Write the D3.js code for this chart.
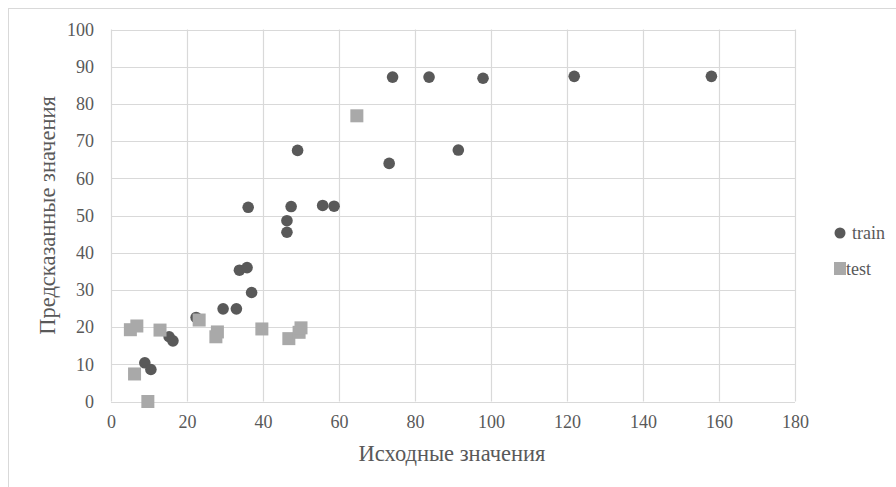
<!DOCTYPE html>
<html>
<head>
<meta charset="utf-8">
<script src="https://cdn.jsdelivr.net/npm/d3@7"></script>
<style>
  html, body { margin: 0; padding: 0; background: #fff; }
  svg { display: block; }
</style>
</head>
<body>
<script>
// ---- data ----
const trainX = [74.1, 83.7, 97.9, 121.9, 158.0, 49.1, 91.4, 73.2, 36.1, 47.4, 55.7, 58.7, 46.3, 46.3, 33.8, 35.8, 37.0, 29.5, 33.0, 22.4, 15.3, 16.3, 8.9, 10.5];
const trainY = [87.2, 87.2, 86.9, 87.4, 87.4, 67.5, 67.6, 64.0, 52.2, 52.4, 52.7, 52.5, 48.6, 45.5, 35.3, 36.0, 29.3, 24.9, 24.9, 22.6, 17.4, 16.3, 10.4, 8.6];
const testX = [64.7, 5.1, 6.8, 12.9, 23.2, 28.0, 27.6, 39.7, 46.8, 49.5, 50.0, 6.2, 9.7];
const testY = [76.8, 19.3, 20.3, 19.2, 21.9, 18.7, 17.4, 19.5, 16.9, 18.6, 19.8, 7.4, 0.0];
const xTicks = [0, 20, 40, 60, 80, 100, 120, 140, 160, 180];
const yTicks = [0, 10, 20, 30, 40, 50, 60, 70, 80, 90, 100];
const seriesNames = ["train", "test"];
const xTitle = "Исходные значения";
const yTitle = "Предсказанные значения";

(function () {
const W = 896, H = 487;
const pL = 111, pR = 795, pT = 29.5, pB = 401.5;
const trainColor = "#595959", testColor = "#a9a9a9", gridColor = "#d9d9d9", textColor = "#595959";
const FONT = "'Liberation Serif', 'Times New Roman', Times, serif";

const svg = d3.select("body").append("svg").attr("width", W).attr("height", H);

// chart border
svg.append("rect").attr("x", 8.5).attr("y", 8.5).attr("width", 900).attr("height", 500)
  .attr("fill", "#fff").attr("stroke", "#d9d9d9").attr("stroke-width", 1);

const x = d3.scaleLinear().domain([0, 180]).range([pL, pR]);
const y = d3.scaleLinear().domain([0, 100]).range([pB, pT]);

// grid
const g = svg.append("g");
g.selectAll("line.v").data(xTicks).enter().append("line")
  .attr("x1", d => Math.round(x(d)) + 0.5).attr("x2", d => Math.round(x(d)) + 0.5)
  .attr("y1", y(100)).attr("y2", y(0))
  .attr("stroke", gridColor).attr("stroke-width", 1.2);
g.selectAll("line.h").data(yTicks).enter().append("line")
  .attr("y1", d => Math.round(y(d)) + 0.5).attr("y2", d => Math.round(y(d)) + 0.5)
  .attr("x1", x(0)).attr("x2", x(180))
  .attr("stroke", gridColor).attr("stroke-width", 1.2);

// axes (labels only)
const xAxis = d3.axisBottom(x).tickValues(xTicks).tickSize(0).tickPadding(0);
const xa = svg.append("g").attr("transform", `translate(0,${pB + 14})`).call(xAxis)
  .attr("font-family", null).attr("font-size", null);
xa.select(".domain").remove();
xa.selectAll("text").style("font-family", FONT).style("font-size", "18px").attr("fill", textColor)
  .attr("dy", "0.71em");

const yAxis = d3.axisLeft(y).tickValues(yTicks).tickSize(0).tickPadding(0);
const ya = svg.append("g").attr("transform", `translate(${pL - 17},0)`).call(yAxis)
  .attr("font-family", null).attr("font-size", null);
ya.select(".domain").remove();
ya.selectAll("text").style("font-family", FONT).style("font-size", "18px").attr("fill", textColor)
  .attr("dy", "0.32em");

// titles
svg.append("text").attr("x", (pL + pR) / 2 - 1).attr("y", 461)
  .attr("text-anchor", "middle").style("font-family", FONT).style("font-size", "22.5px")
  .attr("fill", textColor).text(xTitle);
svg.append("text").attr("transform", `translate(55,${(pT + pB) / 2}) rotate(-90)`)
  .attr("text-anchor", "middle").style("font-family", FONT).style("font-size", "22.5px")
  .attr("fill", textColor).text(yTitle);

// points
const train = trainX.map((v, i) => ({ x: v, y: trainY[i] }));
const test = testX.map((v, i) => ({ x: v, y: testY[i] }));
svg.append("g").selectAll("circle").data(train).enter().append("circle")
  .attr("cx", d => x(d.x)).attr("cy", d => y(d.y)).attr("r", 5.8).attr("fill", trainColor);
const s = 13;
svg.append("g").selectAll("rect").data(test).enter().append("rect")
  .attr("x", d => x(d.x) - s / 2).attr("y", d => y(d.y) - s / 2)
  .attr("width", s).attr("height", s).attr("fill", testColor);

// legend
const lg = svg.append("g");
lg.append("circle").attr("cx", 840).attr("cy", 233).attr("r", 5.5).attr("fill", trainColor);
lg.append("text").attr("x", 852).attr("y", 239).style("font-family", FONT).style("font-size", "18px")
  .attr("fill", textColor).text(seriesNames[0]);
lg.append("rect").attr("x", 834).attr("y", 262).attr("width", 12).attr("height", 13).attr("fill", testColor);
lg.append("text").attr("x", 846).attr("y", 275).style("font-family", FONT).style("font-size", "18px")
  .attr("fill", textColor).text(seriesNames[1]);
})();
</script>
</body>
</html>
